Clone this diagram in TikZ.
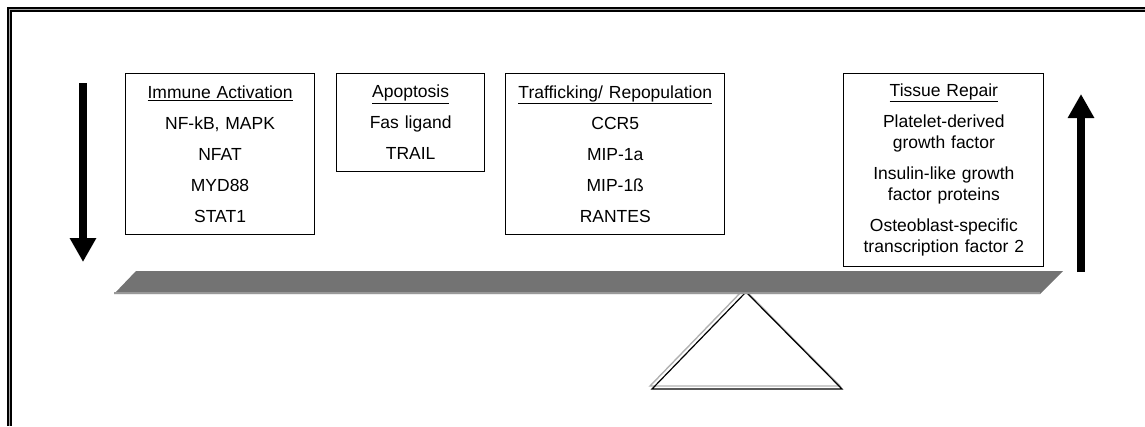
\documentclass[tikz,border=0pt]{standalone}
\usepackage{fontspec}
\setmainfont{Liberation Sans}
\usetikzlibrary{positioning,arrows.meta}

\tikzset{
  genebox/.style={draw, rectangle, line width=1.1pt, inner sep=0pt, align=center,
    font=\fontsize{17.5}{21}\selectfont},
  bigarrow/.style={line width=8.5pt, -{Triangle[width=25pt,length=24pt]}},
}

\begin{document}
\begin{tikzpicture}[x=1pt,y=-1pt]
\useasboundingbox (0,0) rectangle (1145,426);

% frame
\draw[line width=5pt] (9.5,426) -- (9.5,9.5) -- (1145,9.5);
\draw[gray!70, line width=0.8pt] (9.5,426) -- (9.5,9.5) -- (1145,9.5);

% fulcrum
\draw[gray!60, line width=1.4pt] (744,289) -- (650,386) -- (840,386) -- cycle;
\draw[line width=1.2pt] (746,292) -- (652,389) -- (842,389) -- cycle;

% beam
\fill[black!55] (136,271) -- (1063,271) -- (1040,294) -- (114,294) -- cycle;
\draw[black!40, line width=2pt] (114,293) -- (1040,293);

% boxes
\node[genebox, anchor=north west, text width=189pt, minimum height=161pt] (imm) at (125,73) {
  \underline{Immune Activation}\\[10pt]
  NF-kB, MAPK\\[10pt]
  NFAT\\[10pt]
  MYD88\\[10pt]
  STAT1
};

\node[genebox, text width=148pt, minimum height=98pt, right=21pt of imm.north east, anchor=north west] (apo) {
  \underline{Apoptosis}\\[10pt]
  Fas ligand\\[10pt]
  TRAIL
};

\node[genebox, text width=219pt, minimum height=161pt, right=20pt of apo.north east, anchor=north west] (traf) {
  \underline{Trafficking/ Repopulation}\\[10pt]
  CCR5\\[10pt]
  MIP-1a\\[10pt]
  MIP-1ß\\[10pt]
  RANTES
};

\node[genebox, text width=200pt, minimum height=193pt, right=118pt of traf.north east, anchor=north west] (rep) {
  \underline{Tissue Repair}\\[10pt]
  Platelet-derived\\
  growth factor\\[10pt]
  Insulin-like growth\\
  factor proteins\\[10pt]
  Osteoblast-specific\\
  transcription factor 2
};

% arrows
\coordinate (dtop) at (83,83);
\coordinate (dbot) at (83,262);
\coordinate (ubot) at (1081,272);
\coordinate (utop) at (1081,94);
\draw[bigarrow] (dtop) -- (dbot);
\draw[bigarrow] (ubot) -- (utop);

\end{tikzpicture}
\end{document}
